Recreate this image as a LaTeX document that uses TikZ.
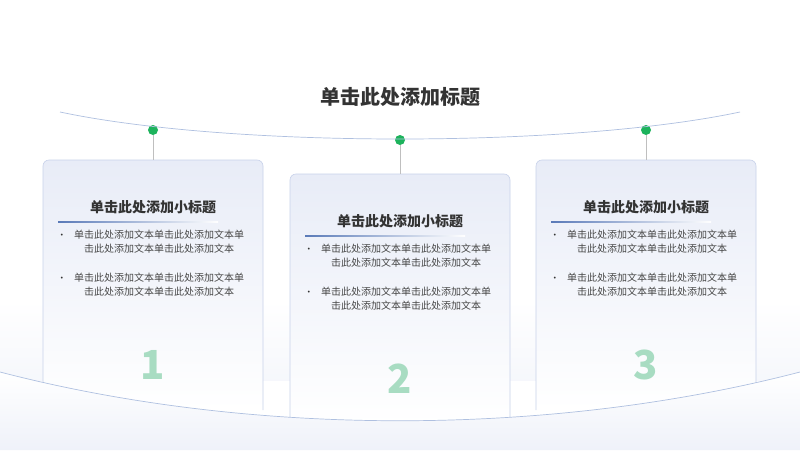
\documentclass[tikz,border=0pt]{standalone}
\usepackage{fontspec}
\setmainfont{Noto Sans CJK SC}
\usetikzlibrary{positioning}
\definecolor{cardtop}{HTML}{E8ECF7}
\definecolor{cardline}{HTML}{C8D2EA}
\definecolor{arcline}{HTML}{AFC0E0}
\definecolor{dotgreen}{HTML}{1DB35C}
\definecolor{txt}{HTML}{333333}
\definecolor{numgreen}{HTML}{A8DCC2}
\definecolor{uline}{HTML}{5A7AB8}
\tikzset{
  card/.style={draw=cardline,rounded corners=6pt,top color=cardtop,bottom color=white,line width=0.6pt},
  pin/.style={circle,fill=dotgreen,inner sep=0pt,minimum size=10pt},
  subtitle/.style={font=\bfseries\fontsize{14}{16}\selectfont,text=txt},
  body/.style={font=\fontsize{10}{14}\selectfont,text=txt!90,align=center,inner sep=0pt},
  bignum/.style={font=\bfseries\fontsize{40}{40}\selectfont,text=numgreen}
}
\begin{document}
\begin{tikzpicture}[x=1pt,y=-1pt]
  \useasboundingbox (0,0) rectangle (800,450);
  \fill[white] (0,0) rectangle (800,450);
  \shade[top color=white,bottom color=cardtop!40] (0,300) rectangle (800,380);
  \foreach \i/\x/\y/\py in {1/43/160/130,2/290/174/140,3/536/160/130}{
    \pgfmathsetmacro{\cx}{\x+110}
    \shade[card] (\x,\y+250) -- (\x,\y) -- (\x+220,\y) -- (\x+220,\y+250);
    \node[pin] (p\i) at (\cx,\py) {};
    \coordinate (c\i) at (\cx,\y);
    \draw[black!25,line width=0.6pt] (p\i) -- (c\i);
    \node[subtitle] (s\i) at (\cx,\y+47) {单击此处添加小标题};
    \shade[left color=uline,right color=white] (\x+15,\y+61.5) rectangle (\x+175,\y+62.5);
    \node[body,anchor=north] (b\i1) at (\cx+6,\y+70)
      {单击此处添加文本单击此处添加文本单\\击此处添加文本单击此处添加文本};
    \node[body,anchor=north] (b\i2) at (\cx+6,\y+113)
      {单击此处添加文本单击此处添加文本单\\击此处添加文本单击此处添加文本};
    \node[font=\small,text=txt,left=4pt of b\i1.north west,anchor=north east,yshift=-1pt] {•};
    \node[font=\small,text=txt,left=4pt of b\i2.north west,anchor=north east,yshift=-1pt] {•};
    \node[bignum] (n\i) at (\cx,\y+205) {\i};
  }
  % area under the lower arc
  \shade[top color=white,bottom color=cardtop!70]
    (0,372) .. controls (250,437) and (550,437) .. (800,372) -- (800,450) -- (0,450) -- cycle;
  \draw[arcline,line width=0.7pt] (0,372) .. controls (250,437) and (550,437) .. (800,372);
  \draw[arcline,line width=0.7pt] (60,112) .. controls (230,148) and (570,148) .. (740,112);
  \node[font=\bfseries\fontsize{20}{22}\selectfont,text=txt] (title) at (400,97) {单击此处添加标题};
\end{tikzpicture}
\end{document}
